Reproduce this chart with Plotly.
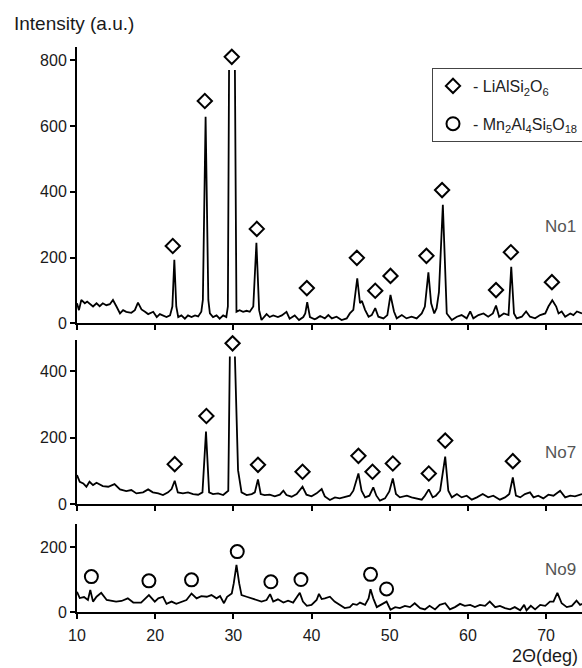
import plotly.graph_objects as go

# ---------------- data ----------------
# 2-theta grid (deg) and intensities for each sample; None marks the part of a
# peak that leaves the drawn region (open top in the reference)
no1_x = [10.0, 10.25, 10.55, 11.0, 11.3, 11.6, 12.05, 12.5, 12.9, 13.3, 13.75, 14.2, 14.6, 15.05, 15.5, 15.9,
         16.3, 16.95, 17.4, 17.8, 18.25, 18.7, 19.1, 19.75, 20.2, 20.6, 21.0, 21.45, 21.9, 22.2, 22.45, 22.7,
         22.95, 23.35, 23.8, 24.2, 24.65, 25.1, 25.5, 25.9, 26.1, 26.45, 26.8, 27.0, 27.4, 27.85, 28.25, 28.7,
         29.1, 29.3, 29.45, None, 30.2, 30.4, 30.8, 31.25, 31.7, 32.1, 32.55, 32.95, 33.3, 33.6, 34.25, 34.65,
         35.1, 35.7, 36.2, 36.8, 37.2, 37.85, 38.4, 38.95, 39.2, 39.45, 39.8, 40.4, 40.65, 41.1, 41.7, 42.15,
         42.6, 43.2, 43.85, 44.5, 44.9, 45.35, 45.85, 46.2, 46.45, 46.85, 47.3, 47.7, 48.15, 48.55, 49.2, 49.7,
         50.1, 50.55, 50.9, 51.55, 52.15, 52.8, 53.45, 54.1, 54.5, 54.95, 55.3, 55.7, 56.0, 56.3, 56.8, 57.3,
         57.95, 58.6, 59.2, 59.85, 60.3, 60.7, 61.35, 62.0, 62.6, 63.2, 63.6, 64.0, 64.6, 65.2, 65.55, 65.9,
         66.25, 66.9, 67.45, 67.95, 68.6, 69.25, 69.9, 70.3, 70.8, 71.3, 71.6, 72.0, 72.45, 73.1, 73.5, 73.95,
         74.6]
no1_y = [61, 40, 71, 61, 66, 61, 51, 61, 52, 61, 55, 58, 71, 51, 30, 40,
         35, 32, 40, 63, 42, 35, 28, 35, 19, 28, 24, 19, 24, 51, 193, 51,
         19, 24, 14, 24, 19, 24, 21, 35, 71, 628, 71, 30, 19, 24, 14, 24,
         19, 51, 770, None, 770, 35, 40, 35, 38, 35, 51, 245, 40, 10, 28, 19,
         24, 19, 24, 35, 14, 24, 10, 19, 30, 64, 19, 12, 15, 22, 15, 25,
         15, 20, 10, 15, 30, 41, 137, 61, 68, 41, 20, 25, 46, 20, 15, 25,
         86, 36, 15, 25, 15, 20, 15, 30, 51, 155, 61, 30, 46, 95, 360, 30,
         10, 20, 25, 15, 36, 15, 25, 30, 20, 30, 54, 20, 30, 25, 172, 30,
         15, 20, 36, 20, 15, 25, 30, 51, 70, 51, 30, 36, 20, 30, 25, 36,
         30]

no7_x = [10.0, 10.35, 10.8, 11.2, 11.6, 12.05, 12.5, 12.9, 13.3, 14.0, 14.8, 15.5, 16.3, 16.95, 17.6, 18.45,
         19.1, 19.7, 20.4, 21.0, 21.65, 22.1, 22.5, 22.9, 23.55, 24.2, 24.85, 25.5, 26.05, 26.5, 26.9, 27.4,
         28.05, 28.7, 29.35, 29.55, None, 30.2, 30.6, 31.05, 31.7, 32.35, 32.75, 33.15, 33.5, 34.0, 34.65, 35.3,
         35.95, 36.4, 36.8, 37.45, 38.1, 38.85, 39.35, 40.0, 40.65, 41.3, 41.7, 42.35, 43.0, 43.6, 44.25, 44.9,
         45.35, 46.0, 46.4, 46.85, 47.4, 47.9, 48.3, 48.75, 49.4, 49.95, 50.4, 50.8, 51.3, 52.2, 52.8, 53.45,
         54.1, 54.5, 55.0, 55.5, 55.9, 56.45, 57.1, 57.5, 57.95, 58.6, 59.2, 59.85, 60.5, 61.15, 61.9, 62.6,
         63.25, 64.1, 64.75, 65.3, 65.75, 66.15, 66.7, 67.3, 67.95, 68.4, 69.0, 69.65, 70.3, 70.95, 71.8, 72.45,
         73.1, 73.7, 74.3, 74.6]
no7_y = [87, 67, 62, 52, 67, 57, 64, 60, 54, 52, 60, 44, 39, 42, 32, 35,
         44, 35, 32, 27, 35, 45, 70, 35, 32, 35, 30, 28, 35, 218, 35, 30,
         32, 27, 40, 444, None, 444, 102, 35, 27, 30, 35, 74, 30, 27, 28, 23,
         28, 40, 27, 22, 30, 52, 28, 23, 32, 45, 23, 12, 20, 17, 20, 25,
         40, 92, 40, 20, 25, 50, 25, 10, 17, 38, 77, 30, 20, 25, 20, 17,
         13, 25, 44, 20, 25, 40, 143, 40, 20, 30, 20, 25, 13, 20, 30, 20,
         25, 13, 20, 30, 80, 25, 20, 30, 35, 20, 25, 17, 28, 25, 40, 20,
         25, 23, 28, 30]

no9_x = [10.0, 10.35, 10.9, 11.4, 11.7, 12.05, 12.5, 13.1, 13.8, 14.4, 15.0, 15.7, 16.5, 17.2, 18.2, 19.2,
         19.95, 20.4, 21.0, 21.45, 22.1, 22.7, 23.6, 24.0, 24.65, 25.3, 25.9, 26.6, 27.2, 27.85, 28.3, 28.8,
         29.2, 29.8, 30.05, 30.4, 30.75, 31.05, 31.7, 32.35, 33.0, 33.6, 34.25, 34.7, 35.1, 35.7, 36.4, 37.0,
         37.65, 38.5, 38.9, 39.4, 40.0, 40.65, 40.95, 41.3, 41.7, 42.35, 42.95, 43.6, 44.25, 44.9, 45.3, 45.8,
         46.2, 46.85, 47.3, 47.55, 47.9, 48.35, 48.95, 49.6, 50.1, 50.7, 51.3, 51.95, 52.6, 53.2, 53.9, 54.5,
         55.1, 55.8, 56.4, 57.1, 57.7, 58.35, 59.0, 59.6, 60.3, 60.9, 61.55, 62.2, 62.8, 63.5, 64.1, 64.75,
         65.4, 66.0, 66.7, 67.2, 67.5, 68.05, 68.6, 69.25, 69.9, 70.5, 70.95, 71.45, 72.0, 72.65, 73.3, 73.9,
         74.35, 74.6]
no9_y = [62, 43, 46, 37, 68, 32, 47, 59, 37, 35, 32, 34, 42, 29, 29, 52,
         32, 42, 47, 25, 32, 25, 32, 37, 57, 42, 49, 47, 52, 42, 49, 27,
         47, 57, 88, 145, 88, 52, 47, 42, 39, 32, 37, 55, 32, 39, 29, 35,
         29, 59, 32, 19, 22, 37, 56, 40, 42, 47, 32, 22, 12, 15, 25, 22,
         29, 22, 42, 70, 42, 15, 22, 32, 7, 15, 12, 19, 15, 27, 12, 8,
         19, 8, 22, 27, 8, 15, 25, 19, 22, 15, 22, 19, 32, 15, 19, 12,
         8, 15, 5, 22, 5, 19, 8, 22, 19, 32, 32, 59, 27, 15, 19, 35,
         22, 25]

# phase identification marks
li_no1_x = [22.25, 26.35, 29.8, 33.0, 39.4, 45.8, 48.15, 50.1, 54.7, 56.7, 63.6, 65.5, 70.75]
li_no1_y = [235, 676, 810, 287, 107, 199, 99, 144, 205, 405, 101, 216, 125]
li_no7_x = [22.5, 26.55, 29.9, 33.15, 38.85, 46.0, 47.8, 50.4, 55.0, 57.1, 65.75]
li_no7_y = [120, 265, 484, 118, 97, 145, 97, 122, 92, 191, 129]
mn_no9_x = [11.84, 19.2, 24.65, 30.5, 34.8, 38.65, 47.55, 49.6]
mn_no9_y = [109, 96, 99, 186, 93, 100, 116, 71]

x_ticks = [10, 20, 30, 40, 50, 60, 70]
y_ticks_no1 = [0, 200, 400, 600, 800]
y_ticks_no7 = [0, 200, 400]
y_ticks_no9 = [0, 200]
sample_labels = ["No1", "No7", "No9"]
phase_names = ["- LiAlSi<sub>2</sub>O<sub>6</sub>", "- Mn<sub>2</sub>Al<sub>4</sub>Si<sub>5</sub>O<sub>18</sub>"]

# ---------------- figure ----------------
W, H = 582, 668
ML = 77
FONT = "Liberation Sans, Arial, sans-serif"
line_style = dict(color="black", width=1.8)

fig = go.Figure()
fig.add_trace(go.Scatter(x=no1_x, y=no1_y, mode="lines", line=line_style, xaxis="x", yaxis="y",
                         showlegend=False, connectgaps=False))
fig.add_trace(go.Scatter(x=no7_x, y=no7_y, mode="lines", line=line_style, xaxis="x2", yaxis="y2",
                         showlegend=False, connectgaps=False))
fig.add_trace(go.Scatter(x=no9_x, y=no9_y, mode="lines", line=line_style, xaxis="x3", yaxis="y3",
                         showlegend=False, connectgaps=False))

dia = dict(symbol="diamond-open", size=11, color="black", line=dict(color="black", width=2))
cir = dict(symbol="circle-open", size=13, color="black", line=dict(color="black", width=2))
fig.add_trace(go.Scatter(x=li_no1_x, y=li_no1_y, mode="markers", marker=dia, xaxis="x", yaxis="y",
                         name=phase_names[0], legendgroup="a", cliponaxis=False))
fig.add_trace(go.Scatter(x=li_no7_x, y=li_no7_y, mode="markers", marker=dia, xaxis="x2", yaxis="y2",
                         name=phase_names[0], legendgroup="a", showlegend=False, cliponaxis=False))
fig.add_trace(go.Scatter(x=mn_no9_x, y=mn_no9_y, mode="markers", marker=cir, xaxis="x3", yaxis="y3",
                         name=phase_names[1], legendgroup="b", cliponaxis=False))


def py(p):  # pixel row -> paper fraction
    return 1 - p / H


def px(p):  # pixel column -> paper fraction
    return (p - ML) / (W - ML)


xcommon = dict(range=[10, 74.6], tickvals=x_ticks, showline=True, linecolor="black", linewidth=2,
               ticks="outside", ticklen=5, tickwidth=1.5, tickcolor="black", showgrid=False,
               zeroline=False, tickfont=dict(family=FONT, size=16, color="#1a1a1a"))
ycommon = dict(showline=True, linecolor="black", linewidth=2, ticks="outside", ticklen=5, tickwidth=1.5,
               tickcolor="black", showgrid=False, zeroline=False,
               tickfont=dict(family=FONT, size=16, color="#1a1a1a"))

fig.update_layout(
    width=W, height=H,
    margin=dict(l=ML, r=0, t=0, b=0, autoexpand=False),
    plot_bgcolor="white", paper_bgcolor="white",
    font=dict(family=FONT, size=16, color="black"),
    xaxis=dict(xcommon, anchor="y", showticklabels=False),
    xaxis2=dict(xcommon, anchor="y2", showticklabels=False, matches="x"),
    xaxis3=dict(xcommon, anchor="y3", matches="x", ticklabelstandoff=3),
    yaxis=dict(ycommon, domain=[py(323.3), py(47)], range=[0, 840], tickvals=y_ticks_no1, anchor="x"),
    yaxis2=dict(ycommon, domain=[py(504), py(340)], range=[0, 494], tickvals=y_ticks_no7, anchor="x2"),
    yaxis3=dict(ycommon, domain=[py(612), py(524)], range=[0, 271], tickvals=y_ticks_no9, anchor="x3"),
    legend=dict(x=px(432), y=py(68), xanchor="left", yanchor="top", bordercolor="#444", borderwidth=1,
                bgcolor="white", font=dict(family=FONT, size=16, color="#222"), traceorder="grouped",
                tracegroupgap=14, itemwidth=30),
    annotations=[
        dict(text="Intensity (a.u.)", x=px(12), y=py(24), xref="paper", yref="paper", xanchor="left",
             yanchor="middle", showarrow=False, font=dict(family=FONT, size=19, color="#1a1a1a")),
        dict(text="2Θ(deg)", x=px(580), y=py(656), xref="paper", yref="paper", xanchor="right",
             yanchor="middle", showarrow=False, font=dict(family=FONT, size=18, color="#1a1a1a")),
        dict(text=sample_labels[0], x=px(578), y=py(227), xref="paper", yref="paper", xanchor="right",
             yanchor="middle", showarrow=False, font=dict(family=FONT, size=17, color="#555")),
        dict(text=sample_labels[1], x=px(578), y=py(452), xref="paper", yref="paper", xanchor="right",
             yanchor="middle", showarrow=False, font=dict(family=FONT, size=17, color="#555")),
        dict(text=sample_labels[2], x=px(578), y=py(569), xref="paper", yref="paper", xanchor="right",
             yanchor="middle", showarrow=False, font=dict(family=FONT, size=17, color="#555")),
    ],
)

fig.write_html("out.html", config={"displayModeBar": False},
               post_script="document.body.style.margin='0';document.body.style.overflow='hidden';")
